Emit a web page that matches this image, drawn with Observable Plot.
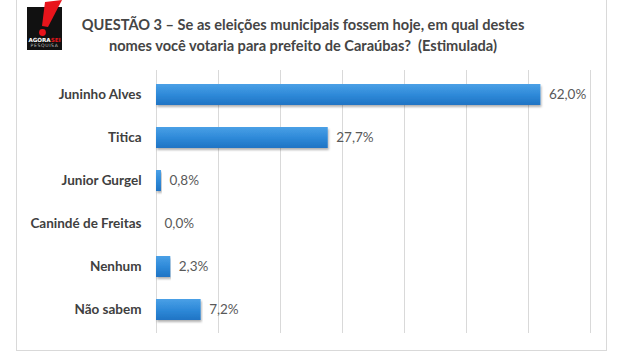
<!DOCTYPE html>
<html><head><meta charset="utf-8">
<script src="https://cdn.jsdelivr.net/npm/d3@7"></script>
<script src="https://cdn.jsdelivr.net/npm/@observablehq/plot@0.6"></script>
<style>
body{margin:0;background:#fff;width:630px;height:360px;overflow:hidden;position:relative;font-family:Lato,"Open Sans",sans-serif;}
#frame{position:absolute;left:16px;top:-2px;width:591px;height:353px;border:1px solid #d9d9d9;box-sizing:border-box;}
#logo{position:absolute;left:27px;top:0px;}
#title{position:absolute;left:50px;width:506px;top:14px;text-align:center;font-size:14.6px;font-weight:bold;color:#454545;line-height:21px;}
#chart{position:absolute;left:0;top:60px;}
</style></head>
<body>
<div id="frame"></div>
<svg id="logo" width="40" height="52" viewBox="0 0 40 52">
  <rect x="0" y="7" width="35" height="43" fill="#111"/>
  <polygon points="18,2 35,0 21,27 15,26" fill="#e8141b"/>
  <circle cx="15.5" cy="32.5" r="3.4" fill="#e8141b"/>
  <text x="17.5" y="41.5" text-anchor="middle" font-size="5.6" font-weight="bold" fill="#fff" font-family="DejaVu Sans">AGORA<tspan fill="#e8141b">SEI</tspan></text>
  <text x="17.5" y="47" text-anchor="middle" font-size="4.6" fill="#bbb" font-family="DejaVu Sans" letter-spacing="0.6">PESQUISA</text>
</svg>
<div id="title">QUESTÃO 3 – Se as eleições municipais fossem hoje, em qual destes<br>nomes você votaria para prefeito de Caraúbas?&nbsp; (Estimulada)</div>
<div id="chart"></div>
<script>
const categories = ["Juninho Alves","Titica","Junior Gurgel","Canindé de Freitas","Nenhum","Não sabem"];
const values = [62.0, 27.7, 0.8, 0.0, 2.3, 7.2];
const valueLabels = ["62,0%","27,7%","0,8%","0,0%","2,3%","7,2%"];
const gridTicks = [0,10,20,30,40,50,60,70];

const data = categories.map((c,i)=>({cat:c, v:values[i], label:valueLabels[i]}));

const plot = Plot.plot({
  width: 630, height: 290,
  marginLeft: 156, marginRight: 40, marginTop: 10, marginBottom: 17,
  x: {domain:[0,70], axis:null},
  y: {domain: categories, paddingInner: 0.52, paddingOuter: 0.25, label: null},
  style: {fontFamily: "Lato, 'Open Sans', sans-serif", background: "transparent"},
  marks: [
    Plot.ruleX(gridTicks, {stroke:"#d9d9d9", strokeWidth:1, strokeOpacity:1}),
    Plot.barX(data, {x:"v", y:"cat", fill:"url(#barGrad)", filter: d=>d.v>0}),
    Plot.text(data, {x:"v", y:"cat", text:"label", textAnchor:"start", dx:8, fontSize:13.5, fill:"#595959"}),
    Plot.axisY({tickSize:0, tickPadding:15, fontSize:13.5, fontWeight:"bold", color:"#404040", label:null})
  ]
});
const ns = "http://www.w3.org/2000/svg";
const defs = document.createElementNS(ns,"defs");
defs.innerHTML = `<linearGradient id="barGrad" x1="0" y1="0" x2="0" y2="1">
<stop offset="0" stop-color="#4aa0e6"/><stop offset="0.5" stop-color="#2f8ad9"/><stop offset="1" stop-color="#1f74c4"/></linearGradient>
<filter id="sh" x="-5%" y="-20%" width="110%" height="160%"><feDropShadow dx="1" dy="2" stdDeviation="1.2" flood-color="#000" flood-opacity="0.3"/></filter>`;
plot.insertBefore(defs, plot.firstChild);
plot.querySelectorAll("g[aria-label='bar'] rect").forEach(r=>r.setAttribute("filter","url(#sh)"));
document.getElementById("chart").appendChild(plot);
</script>
</body></html>
